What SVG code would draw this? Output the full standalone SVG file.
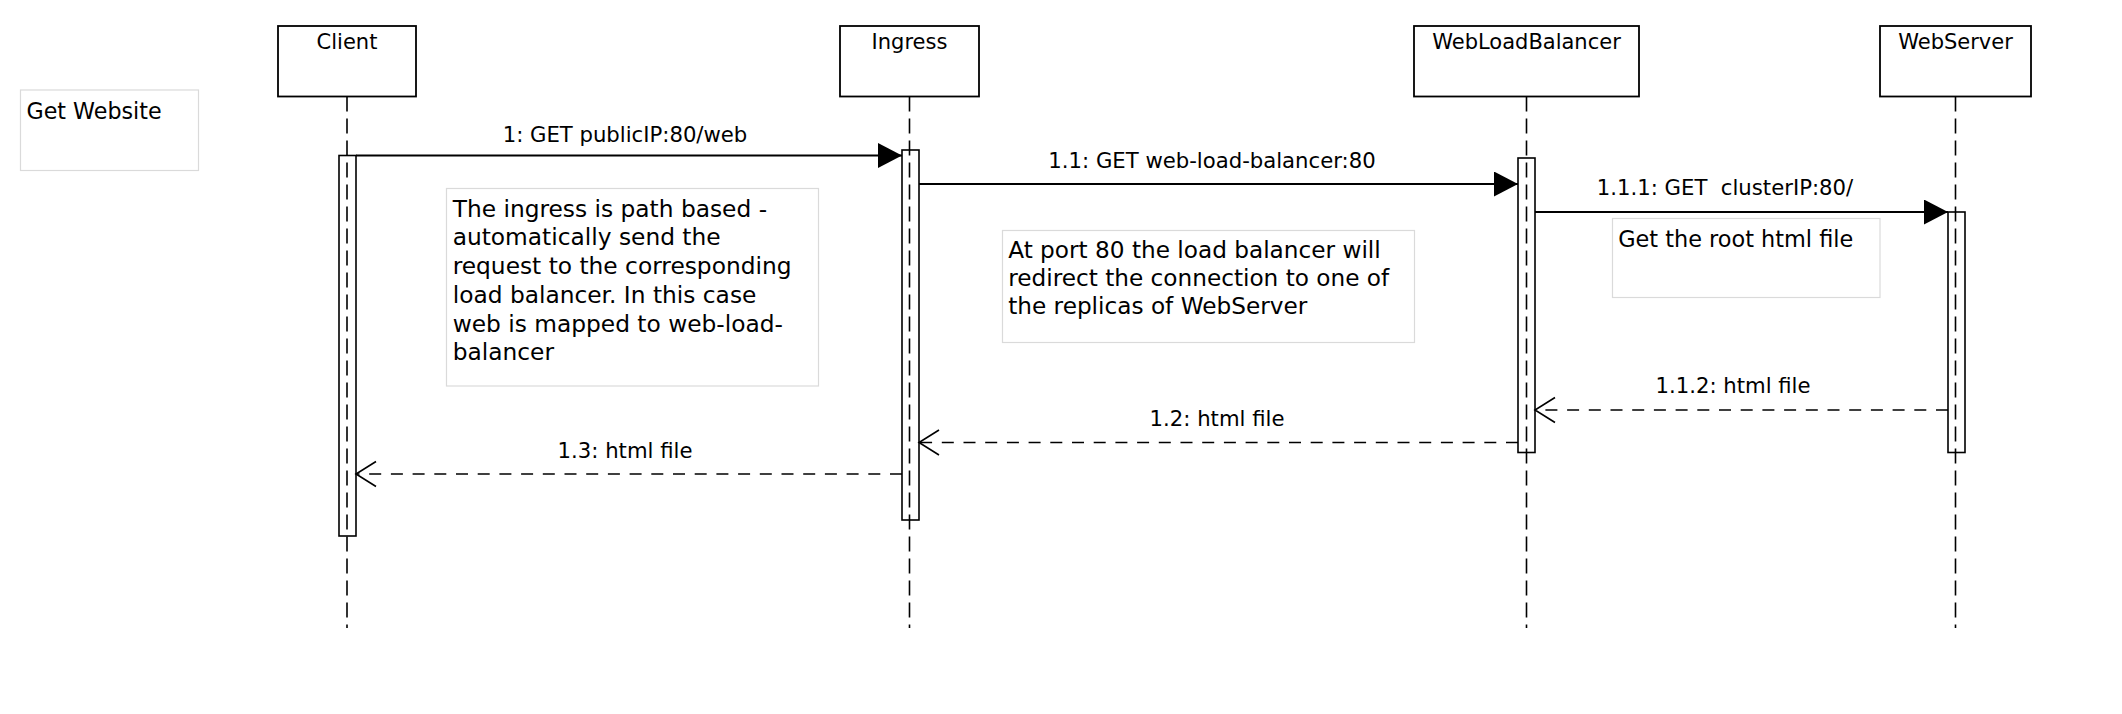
<svg xmlns="http://www.w3.org/2000/svg" width="2122" height="714" viewBox="0 0 2122 714">
<style>
  text { font-family: "DejaVu Sans", "Liberation Sans", sans-serif; fill: #000; }
  .head { fill: #fff; stroke: #000; stroke-width: 1.8; }
  .hl { font-size: 21px; text-anchor: middle; }
  .life { stroke: #000; stroke-width: 1.6; stroke-dasharray: 15 7; fill: none; }
  .act { fill: none; stroke: #000; stroke-width: 1.6; }
  .note { fill: #fff; stroke: #dadada; stroke-width: 1.2; }
  .nt { font-size: 23.3px; }
  .msg { stroke: #000; stroke-width: 1.8; fill: none; }
  .ret { stroke: #000; stroke-width: 1.6; fill: none; stroke-dasharray: 12 9.7; }
  .ml { font-size: 21.2px; text-anchor: middle; }
</style>
<defs>
  <marker id="solidArrow" markerUnits="userSpaceOnUse" viewBox="0 0 24 25" refX="24" refY="12.5" markerWidth="24" markerHeight="25" orient="auto">
    <path d="M0,0 L24,12.5 L0,25 Z" fill="#000"/>
  </marker>
  <marker id="openArrow" markerUnits="userSpaceOnUse" viewBox="-2 -2 24 29" refX="20" refY="12.5" markerWidth="24" markerHeight="29" orient="auto">
    <path d="M0,0 L20,12.5 L0,25" fill="none" stroke="#000" stroke-width="1.6"/>
  </marker>
</defs>
<rect width="2122" height="714" fill="#fff"/>

<g id="title-note">
  <rect class="note" x="20.5" y="90" width="178" height="80.5"/>
  <text x="26.5" y="119" style="font-size:22.2px">Get Website</text>
</g>

<g id="client">
  <line class="life" x1="347" y1="96.5" x2="347" y2="628"/>
  <rect class="head" x="278" y="26" width="138" height="70.5"/>
  <text class="hl" x="347" y="48.5">Client</text>
  <rect class="act" x="339" y="155.5" width="17" height="380.5"/>
</g>

<g id="ingress">
  <line class="life" x1="909.5" y1="96.5" x2="909.5" y2="628"/>
  <rect class="head" x="840" y="26" width="139" height="70.5"/>
  <text class="hl" x="909.5" y="48.5">Ingress</text>
  <rect class="act" x="902" y="150" width="17" height="370"/>
</g>

<g id="webloadbalancer">
  <line class="life" x1="1526.5" y1="96.5" x2="1526.5" y2="628"/>
  <rect class="head" x="1414" y="26" width="225" height="70.5"/>
  <text class="hl" x="1526.5" y="48.5">WebLoadBalancer</text>
  <rect class="act" x="1518" y="158" width="17" height="294.5"/>
</g>

<g id="webserver">
  <line class="life" x1="1955.5" y1="96.5" x2="1955.5" y2="628"/>
  <rect class="head" x="1880" y="26" width="151" height="70.5"/>
  <text class="hl" x="1955.5" y="48.5">WebServer</text>
  <rect class="act" x="1948" y="212" width="17" height="240.5"/>
</g>

<g id="note-ingress">
  <rect class="note" x="446.5" y="188.5" width="372" height="197.5"/>
  <text class="nt" x="452.7" y="216.7">The ingress is path based -</text>
  <text class="nt" x="452.7" y="245.4">automatically send the</text>
  <text class="nt" x="452.7" y="274.1">request to the corresponding</text>
  <text class="nt" x="452.7" y="302.8">load balancer. In this case</text>
  <text class="nt" x="452.7" y="331.5">web is mapped to web-load-</text>
  <text class="nt" x="452.7" y="360.2">balancer</text>
</g>

<g id="note-loadbalancer">
  <rect class="note" x="1002.5" y="230.5" width="412" height="112"/>
  <text class="nt" x="1008.2" y="258.3" style="font-size:23.2px">At port 80 the load balancer will</text>
  <text class="nt" x="1008.2" y="286.1" style="font-size:23.2px">redirect the connection to one of</text>
  <text class="nt" x="1008.2" y="313.9" style="font-size:23.2px">the replicas of WebServer</text>
</g>

<g id="note-webserver">
  <rect class="note" x="1612.5" y="218.5" width="267.5" height="79"/>
  <text class="nt" x="1618.2" y="246.7" style="font-size:22.4px">Get the root html file</text>
</g>

<g id="connectors">
  <line class="msg" x1="356" y1="155.5" x2="902" y2="155.5" marker-end="url(#solidArrow)"/>
  <text class="ml" x="625" y="141.7">1: GET publicIP:80/web</text>

  <line class="msg" x1="919" y1="184" x2="1518" y2="184" marker-end="url(#solidArrow)"/>
  <text class="ml" x="1212" y="168.3">1.1: GET web-load-balancer:80</text>

  <line class="msg" x1="1535" y1="212" x2="1948" y2="212" marker-end="url(#solidArrow)"/>
  <text class="ml" x="1725" y="195" xml:space="preserve">1.1.1: GET  clusterIP:80/</text>

  <line class="ret" x1="1948" y1="410" x2="1535" y2="410" marker-end="url(#openArrow)"/>
  <text class="ml" x="1733" y="393.3">1.1.2: html file</text>

  <line class="ret" x1="1518" y1="442.5" x2="919" y2="442.5" marker-end="url(#openArrow)"/>
  <text class="ml" x="1217" y="425.7">1.2: html file</text>

  <line class="ret" x1="902" y1="474" x2="356" y2="474" marker-end="url(#openArrow)"/>
  <text class="ml" x="625" y="457.7">1.3: html file</text>
</g>
</svg>
